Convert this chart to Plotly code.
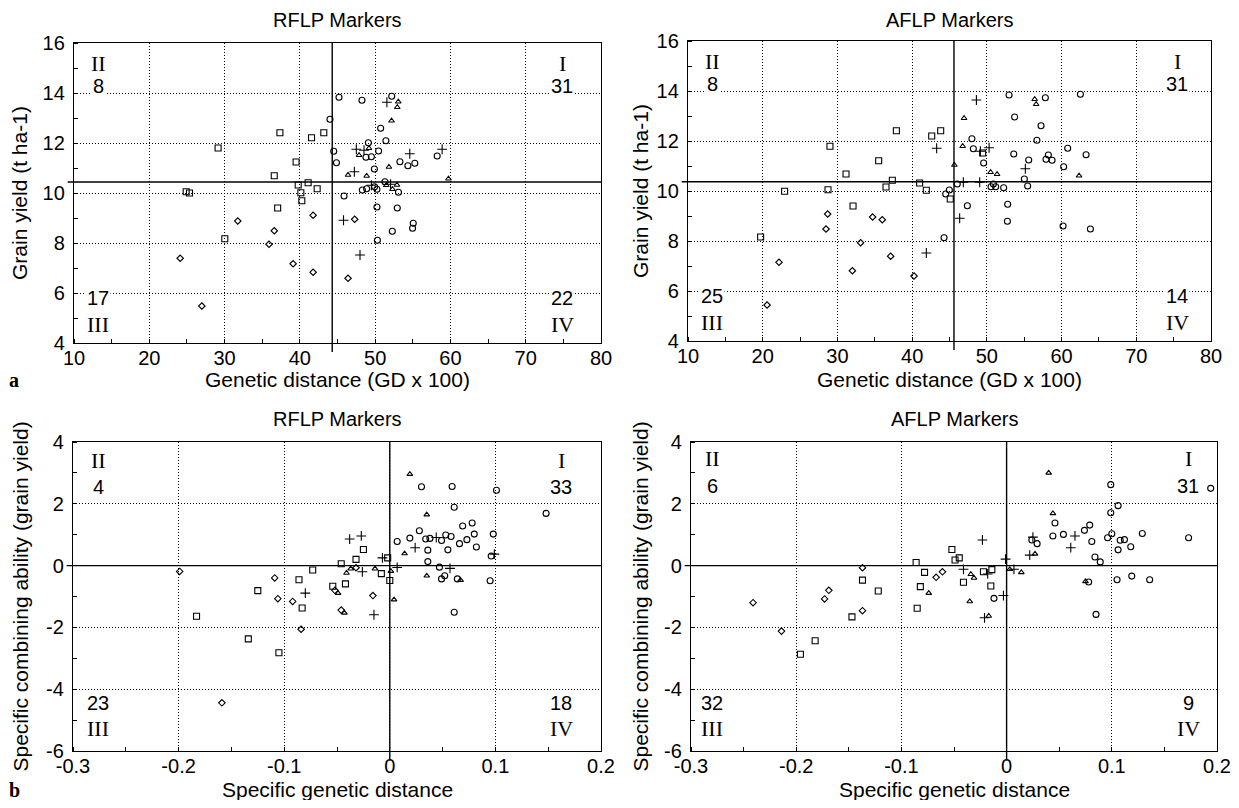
import plotly.graph_objects as go

# ---------------- DATA ----------------
# Panel a-left: RFLP, grain yield vs genetic distance
rg_circle_x = [45.2, 48.25, 52.2, 44.0, 50.73, 51.43, 49.1, 50.46, 44.5, 48.78, 49.5, 58.24, 44.86, 53.29, 54.35, 55.27, 49.9, 51.3, 49.93, 50.24, 48.3, 48.87, 53.1, 45.87, 50.24, 52.94, 55.06, 54.97, 52.28, 50.3]
rg_circle_y = [13.83, 13.71, 13.87, 12.95, 12.59, 12.09, 12.01, 11.68, 11.67, 11.43, 11.45, 11.48, 11.21, 11.25, 11.09, 11.19, 10.96, 10.45, 10.25, 10.15, 10.12, 10.17, 10.03, 9.88, 9.44, 9.4, 8.79, 8.59, 8.47, 8.11]
rg_square_x = [37.35, 41.55, 43.18, 29.14, 39.5, 36.6, 39.78, 41.1, 42.3, 40.13, 40.26, 37.05, 24.9, 25.34, 30.03]
rg_square_y = [12.41, 12.21, 12.41, 11.8, 11.24, 10.69, 10.32, 10.41, 10.17, 10.01, 9.69, 9.4, 10.05, 10.0, 8.17]
rg_diamond_x = [31.75, 36.6, 35.9, 41.76, 24.1, 26.98, 39.1, 41.76, 46.4, 47.28]
rg_diamond_y = [8.88, 8.49, 7.95, 9.11, 7.39, 5.48, 7.17, 6.83, 6.59, 8.95]
rg_plus_x = [51.56, 47.5, 48.52, 54.6, 58.9, 47.24, 49.5, 52.05, 45.8, 47.99]
rg_plus_y = [13.63, 11.75, 11.71, 11.57, 11.75, 10.85, 10.31, 10.35, 8.91, 7.52]
rg_tri_x = [53.07, 52.94, 52.18, 49.18, 47.86, 51.83, 46.4, 48.87, 59.74, 51.48, 52.9, 52.3]
rg_tri_y = [13.65, 13.43, 12.89, 11.79, 11.51, 11.04, 10.72, 10.68, 10.57, 10.31, 10.32, 10.15]
rg_mean_x, rg_mean_y = 44.3, 10.44

# Panel a-right: AFLP, grain yield vs genetic distance
ag_circle_x = [52.97, 57.83, 62.52, 53.72, 57.25, 48.0, 56.7, 48.19, 60.82, 53.6, 63.28, 55.6, 58.23, 57.92, 58.73, 49.57, 60.28, 55.02, 44.98, 44.49, 46.04, 50.56, 50.87, 51.18, 52.25, 55.46, 47.39, 52.79, 52.75, 60.2, 63.86, 44.27]
ag_circle_y = [13.84, 13.73, 13.87, 12.96, 12.61, 12.09, 12.03, 11.69, 11.71, 11.48, 11.45, 11.24, 11.44, 11.27, 11.23, 11.12, 10.97, 10.48, 10.04, 9.88, 10.28, 10.17, 10.28, 10.17, 10.13, 10.2, 9.41, 9.47, 8.79, 8.6, 8.48, 8.13]
ag_square_x = [37.89, 29.0, 35.52, 31.15, 37.35, 36.5, 41.0, 41.9, 22.93, 28.74, 32.09, 19.72, 43.82, 42.62, 49.44, 45.1]
ag_square_y = [12.41, 11.79, 11.21, 10.68, 10.43, 10.16, 10.32, 10.03, 9.99, 10.05, 9.4, 8.16, 12.41, 12.2, 11.52, 9.68]
ag_diamond_x = [28.69, 28.47, 34.71, 36.0, 33.1, 37.12, 32.0, 22.18, 20.58, 40.25]
ag_diamond_y = [9.08, 8.48, 8.96, 8.85, 7.93, 7.39, 6.81, 7.15, 5.44, 6.6]
ag_plus_x = [41.9, 48.6, 43.28, 49.13, 50.3, 55.15, 46.85, 49.04, 46.36]
ag_plus_y = [7.52, 13.64, 11.71, 11.59, 11.73, 10.89, 10.35, 10.35, 8.91]
ag_tri_x = [56.4, 56.6, 46.95, 46.76, 45.65, 50.5, 51.37, 62.34]
ag_tri_y = [13.67, 13.47, 12.91, 11.79, 11.04, 10.75, 10.67, 10.61]
ag_mean_x, ag_mean_y = 45.6, 10.37

# Panel b-left: RFLP, SCA vs specific genetic distance
rs_circle_x = [0.030, 0.059, 0.101, 0.061, 0.148, 0.078, 0.069, 0.028, 0.080, 0.098, 0.053, 0.058, 0.019, 0.034, 0.038, 0.049, 0.073, 0.066, 0.007, 0.082, 0.036, 0.055, 0.096, 0.036, 0.047, 0.049, 0.052, 0.064, 0.095, 0.061]
rs_circle_y = [2.55, 2.56, 2.44, 1.89, 1.69, 1.38, 1.28, 1.13, 1.02, 1.02, 0.99, 0.94, 0.89, 0.86, 0.88, 0.81, 0.84, 0.71, 0.78, 0.60, 0.50, 0.51, 0.31, 0.13, -0.05, -0.43, -0.33, -0.43, -0.49, -1.51]
rs_square_x = [-0.125, -0.183, -0.134, -0.105, -0.086, -0.073, -0.083, -0.025, -0.032, -0.046, -0.042, -0.054, 0.0, -0.002, -0.008]
rs_square_y = [-0.81, -1.64, -2.37, -2.82, -0.46, -0.14, -1.37, 0.52, 0.20, 0.06, -0.59, -0.67, -0.48, 0.25, -0.26]
rs_diamond_x = [-0.199, -0.109, -0.106, -0.092, -0.084, -0.159, -0.032, -0.052, -0.046, -0.016]
rs_diamond_y = [-0.19, -0.40, -1.07, -1.16, -2.06, -4.44, -0.07, -0.80, -1.44, -0.97]
rs_plus_x = [-0.080, -0.038, -0.027, -0.026, 0.044, 0.024, 0.099, 0.057, 0.007, -0.007, -0.015]
rs_plus_y = [-0.89, 0.86, 0.96, -0.20, 0.91, 0.58, 0.37, -0.09, -0.06, 0.25, -1.59]
rs_tri_x = [0.019, 0.035, 0.014, 0.035, 0.067, 0.004, 0.001, -0.041, -0.037, -0.049, -0.043, -0.014]
rs_tri_y = [2.96, 1.65, 0.39, -0.33, -0.47, -1.10, -0.18, -0.24, -0.10, -0.89, -1.53, -0.10]
rs_mean_x, rs_mean_y = 0.0, 0.0

# Panel b-right: AFLP, SCA vs specific genetic distance
as_circle_x = [0.099, 0.194, 0.106, 0.099, 0.046, 0.079, 0.074, 0.044, 0.054, 0.129, 0.173, 0.100, 0.096, 0.108, 0.112, 0.081, 0.024, 0.029, 0.118, 0.106, 0.084, 0.089, 0.105, 0.119, 0.136, 0.078, 0.085, -0.012]
as_circle_y = [2.62, 2.5, 1.94, 1.71, 1.38, 1.31, 1.14, 0.96, 1.01, 1.04, 0.9, 1.03, 0.9, 0.82, 0.84, 0.78, 0.83, 0.71, 0.61, 0.51, 0.28, 0.12, -0.46, -0.34, -0.46, -0.53, -1.58, -1.06]
as_square_x = [-0.196, -0.182, -0.137, -0.122, -0.147, -0.086, -0.078, -0.082, -0.085, -0.052, -0.049, -0.045, -0.022, -0.014, -0.041, -0.015]
as_square_y = [-2.87, -2.43, -0.47, -0.82, -1.66, 0.10, -0.22, -0.68, -1.38, 0.52, 0.18, 0.25, -0.2, -0.13, -0.54, -0.66]
as_diamond_x = [-0.241, -0.214, -0.173, -0.169, -0.137, -0.137, -0.067, -0.061]
as_diamond_y = [-1.20, -2.12, -1.08, -0.80, -0.07, -1.46, -0.38, -0.2]
as_plus_x = [0.065, 0.025, 0.061, 0.022, -0.001, 0.007, -0.041, -0.018, -0.003, -0.021, -0.023]
as_plus_y = [0.96, 0.92, 0.58, 0.34, 0.21, -0.12, -0.12, -0.27, -0.97, -1.69, 0.83]
as_tri_x = [0.040, 0.044, 0.027, 0.003, 0.014, 0.075, -0.074, -0.034, -0.031, -0.035, -0.017]
as_tri_y = [3.0, 1.69, 0.38, -0.12, -0.22, -0.51, -0.89, -0.28, -0.40, -1.16, -1.63]
as_mean_x, as_mean_y = 0.0, 0.0

panel_titles = ["RFLP Markers", "AFLP Markers", "RFLP Markers", "AFLP Markers"]
x_titles = ["Genetic distance (GD x 100)", "Genetic distance (GD x 100)", "Specific genetic distance", "Specific genetic distance"]
y_titles = ["Grain yield (t ha-1)", "Grain yield (t ha-1)", "Specific combining ability (grain yield)", "Specific combining ability (grain yield)"]
gd_ticks = [10, 20, 30, 40, 50, 60, 70, 80]
gy_ticks = [4, 6, 8, 10, 12, 14, 16]
sgd_ticks = [-0.3, -0.2, -0.1, 0, 0.1, 0.2]
sgd_labels = ["-0.3", "-0.2", "-0.1", "0", "0.1", "0.2"]
sca_ticks = [-6, -4, -2, 0, 2, 4]
sca_labels = ["-6", "-4", "-2", "0", "2", "4"]
quad_counts = [(8, 31, 17, 22), (8, 31, 25, 14), (4, 33, 23, 18), (6, 31, 32, 9)]

# ---------------- FIGURE ----------------
OFF = 8                      # page body margin of the browser
W, H = 1239 - 2 * OFF, 808 - 2 * OFF
SANS = "Liberation Sans, Arial, sans-serif"
SERIF = "Liberation Serif, Times New Roman, serif"


def fx(p):
    return (p - OFF) / W


def fy(p):
    return 1 - (p - OFF) / H


fig = go.Figure()

# plot areas in screen pixels (left, top, right, bottom)
areas = [(74, 43, 601, 343), (688, 41, 1211, 341), (73, 442, 601, 751), (691, 442, 1217, 751)]
# screen pixel positions of axis titles: (x-title y, y-title x, panel-title y)
title_pos = [(379, 20, 20), (379, 640, 20), (789, 20, 419), (789, 640, 419)]

panels = [
    (rg_circle_x, rg_circle_y, rg_square_x, rg_square_y, rg_diamond_x, rg_diamond_y, rg_plus_x, rg_plus_y, rg_tri_x, rg_tri_y, rg_mean_x, rg_mean_y),
    (ag_circle_x, ag_circle_y, ag_square_x, ag_square_y, ag_diamond_x, ag_diamond_y, ag_plus_x, ag_plus_y, ag_tri_x, ag_tri_y, ag_mean_x, ag_mean_y),
    (rs_circle_x, rs_circle_y, rs_square_x, rs_square_y, rs_diamond_x, rs_diamond_y, rs_plus_x, rs_plus_y, rs_tri_x, rs_tri_y, rs_mean_x, rs_mean_y),
    (as_circle_x, as_circle_y, as_square_x, as_square_y, as_diamond_x, as_diamond_y, as_plus_x, as_plus_y, as_tri_x, as_tri_y, as_mean_x, as_mean_y),
]

sym_styles = [("circle-open", 6), ("square-open", 6), ("diamond-open", 5), ("cross-thin-open", 7), ("triangle-up-open", 5)]

layout = dict(width=W, height=H, margin=dict(l=0, r=0, t=0, b=0, autoexpand=False),
              paper_bgcolor="white", plot_bgcolor="white", showlegend=False,
              font=dict(family=SANS, size=20, color="black"))

annotations = []
shapes = []

quad_pos = [
    dict(l=0.046, r=0.926, top=0.933, topc=0.857, bot=0.063, botc=0.15),
    dict(l=0.046, r=0.935, top=0.933, topc=0.857, bot=0.063, botc=0.15),
    dict(l=0.048, r=0.925, top=0.94, topc=0.853, bot=0.074, botc=0.155),
    dict(l=0.04, r=0.945, top=0.948, topc=0.856, bot=0.074, botc=0.155),
]

DOT = "1px,2px"

for i, (area, pdata) in enumerate(zip(areas, panels)):
    l, t, r, b = area
    xa = "xaxis" if i == 0 else f"xaxis{i+1}"
    ya = "yaxis" if i == 0 else f"yaxis{i+1}"
    xr = "x" if i == 0 else f"x{i+1}"
    yr = "y" if i == 0 else f"y{i+1}"
    top_row = i < 2
    common = dict(showgrid=True, gridcolor="black", griddash=DOT, gridwidth=1,
                  showline=True, linecolor="black", linewidth=1.3, mirror=True,
                  zeroline=False, ticks="", automargin=False, ticklabeloverflow="allow",
                  tickfont=dict(family=SANS, size=20, color="black"))
    if top_row:
        xax = dict(common, range=[10, 80], tickvals=gd_ticks, ticklabelstandoff=-3,
                   minor=dict(ticks="inside", ticklen=4, dtick=5, tickcolor="black", showgrid=False))
        yax = dict(common, range=[4, 16], tickvals=gy_ticks, ticklabelstandoff=4,
                   minor=dict(ticks="inside", ticklen=4, dtick=1, tickcolor="black", showgrid=False))
    else:
        xax = dict(common, range=[-0.3, 0.2], tickvals=sgd_ticks, ticktext=sgd_labels, ticklabelstandoff=-3,
                   minor=dict(ticks="inside", ticklen=4, dtick=0.05, tickcolor="black", showgrid=False))
        yax = dict(common, range=[-6, 4], tickvals=sca_ticks, ticktext=sca_labels, ticklabelstandoff=4,
                   minor=dict(ticks="inside", ticklen=4, dtick=1, tickcolor="black", showgrid=False))
    xax["domain"] = [fx(l), fx(r)]
    yax["domain"] = [fy(b), fy(t)]
    xax["anchor"] = yr
    yax["anchor"] = xr
    layout[xa] = xax
    layout[ya] = yax

    cx, cy, sx, sy, dx, dy, px, py, tx, ty, mx, my = pdata
    for (xs, ys), (sym, sz) in zip([(cx, cy), (sx, sy), (dx, dy), (px, py), (tx, ty)], sym_styles):
        fig.add_trace(go.Scatter(x=xs, y=ys, mode="markers", xaxis=xr, yaxis=yr,
                                 marker=dict(symbol=sym, size=sz, color="black",
                                             line=dict(color="black", width=1.1))))
    # mean lines
    shapes.append(dict(type="line", xref=xr, yref=f"{yr} domain", x0=mx, x1=mx, y0=-0.03, y1=1,
                       line=dict(color="black", width=1.4)))
    shapes.append(dict(type="line", xref=f"{xr} domain", yref=yr, x0=-0.012, x1=1, y0=my, y1=my,
                       line=dict(color="black", width=1.4)))

    xty, ytx, pty = title_pos[i]
    # panel title
    annotations.append(dict(text=panel_titles[i], xref="paper", yref="paper",
                            x=fx((l + r) / 2), y=fy(pty), showarrow=False,
                            font=dict(family=SANS, size=20), xanchor="center", yanchor="middle"))
    # axis titles
    annotations.append(dict(text=x_titles[i], xref="paper", yref="paper",
                            x=fx((l + r) / 2), y=fy(xty), showarrow=False,
                            font=dict(family=SANS, size=21), xanchor="center", yanchor="middle"))
    annotations.append(dict(text=y_titles[i], xref="paper", yref="paper", textangle=-90,
                            x=fx(ytx), y=fy((t + b) / 2), showarrow=False,
                            font=dict(family=SANS, size=21), xanchor="center", yanchor="middle"))
    # quadrant labels
    qp = quad_pos[i]
    c2, c1, c3, c4 = quad_counts[i]
    bg = "white" if top_row else None
    qlabels = [("II", qp["l"], qp["top"], SERIF, 22, None),
               (str(c2), qp["l"], qp["topc"], SANS, 20, bg),
               ("I", qp["r"], qp["top"], SERIF, 22, None),
               (str(c1), qp["r"], qp["topc"], SANS, 20, bg),
               (str(c3), qp["l"], qp["botc"], SANS, 20, bg),
               ("III", qp["l"], qp["bot"], SERIF, 22, None),
               (str(c4), qp["r"], qp["botc"], SANS, 20, bg),
               ("IV", qp["r"], qp["bot"], SERIF, 22, None)]
    for txt, qx, qy, fam, fs, bgc in qlabels:
        a = dict(text=txt, xref=f"{xr} domain", yref=f"{yr} domain", x=qx, y=qy,
                 showarrow=False, font=dict(family=fam, size=fs, color="black"),
                 xanchor="center", yanchor="middle")
        if bgc:
            a["bgcolor"] = bgc
            a["borderpad"] = 1
        annotations.append(a)

# panel letters
annotations.append(dict(text="<b>a</b>", xref="paper", yref="paper", x=fx(14), y=fy(380),
                        showarrow=False, font=dict(family=SERIF, size=20), xanchor="center", yanchor="middle"))
annotations.append(dict(text="<b>b</b>", xref="paper", yref="paper", x=fx(14), y=fy(790),
                        showarrow=False, font=dict(family=SERIF, size=20), xanchor="center", yanchor="middle"))

layout["annotations"] = annotations
layout["shapes"] = shapes
fig.update_layout(**layout)
fig.write_html("out.html")
